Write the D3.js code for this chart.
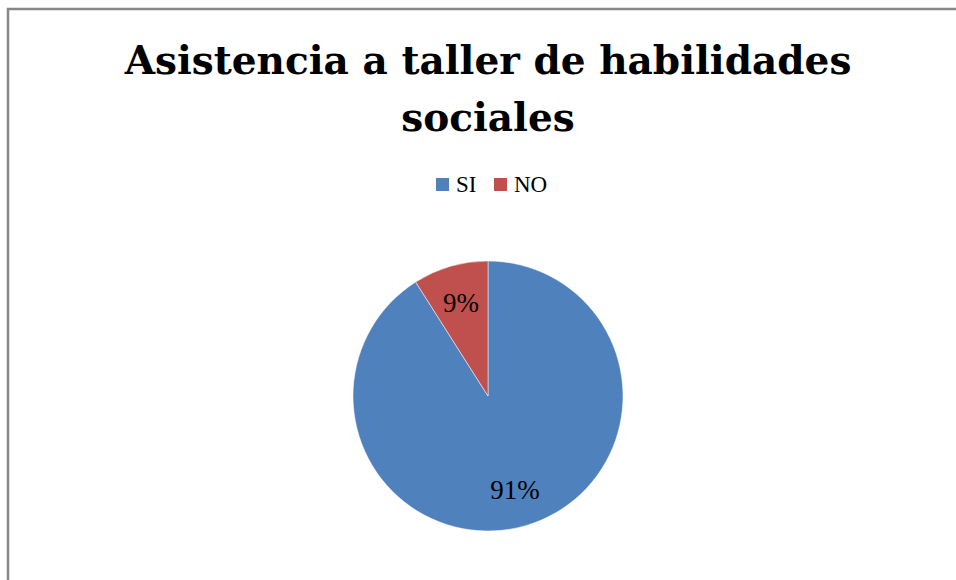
<!DOCTYPE html>
<html>
<head>
    <meta charset="utf-8">
    <script src="https://d3js.org/d3.v7.min.js"></script>
    <style type="text/css">
        body { margin: 0; background: white; }
        .titulo { font-family: "DejaVu Serif", serif; font-weight: bold; fill: black; }
        .leyenda { font-family: "Liberation Serif", serif; font-size: 23px; fill: black; }
        .etiqueta { font-family: "Liberation Serif", serif; font-size: 27px; fill: black; }
    </style>
</head>
<body>
<script>
    // datos del grafico
    let categorias = ["SI", "NO"];
    let valores = [91, 9];
    let colores = ["#4F81BD", "#C0504D"];
    let tituloLineas = ["Asistencia a taller de habilidades", "sociales"];

    let width = 956;
    let height = 580;

    let svg = d3.select("body").append("svg")
        .attr("width", width)
        .attr("height", height);

    // marco
    svg.append("rect")
        .attr("x", 8)
        .attr("y", 9)
        .attr("width", 1000)
        .attr("height", 700)
        .attr("fill", "white")
        .attr("stroke", "#878787")
        .attr("stroke-width", 2.5);

    // titulo (ajusta el tamaño para que la primera linea mida ~727px)
    let titulos = svg.selectAll("text.titulo")
        .data(tituloLineas)
        .enter()
        .append("text")
        .attr("class", "titulo")
        .attr("x", 488)
        .attr("y", function (d, i) { return 74 + i * 57; })
        .attr("text-anchor", "middle")
        .style("font-size", "48px")
        .text(function (d) { return d; });

    let largo = titulos.node().getComputedTextLength();
    titulos.style("font-size", (48 * 727 / largo) + "px");

    // leyenda
    let color = d3.scaleOrdinal().domain(categorias).range(colores);
    let leyendaX = d3.scaleOrdinal().domain(categorias).range([436, 494]);

    let ley = svg.selectAll("g.ley")
        .data(categorias)
        .enter()
        .append("g")
        .attr("class", "ley")
        .attr("transform", function (d) { return "translate(" + leyendaX(d) + ",178)"; });

    ley.append("rect")
        .attr("width", 13)
        .attr("height", 13)
        .attr("fill", function (d) { return color(d); });

    ley.append("text")
        .attr("class", "leyenda")
        .attr("x", 20)
        .attr("y", 13.5)
        .text(function (d) { return d; });

    // pastel
    let radio = 135;
    let cx = 488, cy = 396;

    let pie = d3.pie().sort(null).value(function (d) { return d; });
    let arcos = pie(valores);
    let total = d3.sum(valores);

    let arc = d3.arc().innerRadius(0).outerRadius(radio);
    let arcEtiqueta = d3.arc().innerRadius(radio * 0.72).outerRadius(radio * 0.72);

    let g = svg.append("g").attr("transform", "translate(" + cx + "," + cy + ")");

    g.selectAll("path")
        .data(arcos)
        .enter()
        .append("path")
        .attr("d", arc)
        .attr("fill", function (d, i) { return color(categorias[i]); })
        .attr("stroke", "white")
        .attr("stroke-width", 0.5);

    g.selectAll("text")
        .data(arcos)
        .enter()
        .append("text")
        .attr("class", "etiqueta")
        .attr("text-anchor", "middle")
        .attr("dy", "0.35em")
        .attr("transform", function (d) { return "translate(" + arcEtiqueta.centroid(d) + ")"; })
        .text(function (d) { return Math.round(d.value / total * 100) + "%"; });
</script>
</body>
</html>
